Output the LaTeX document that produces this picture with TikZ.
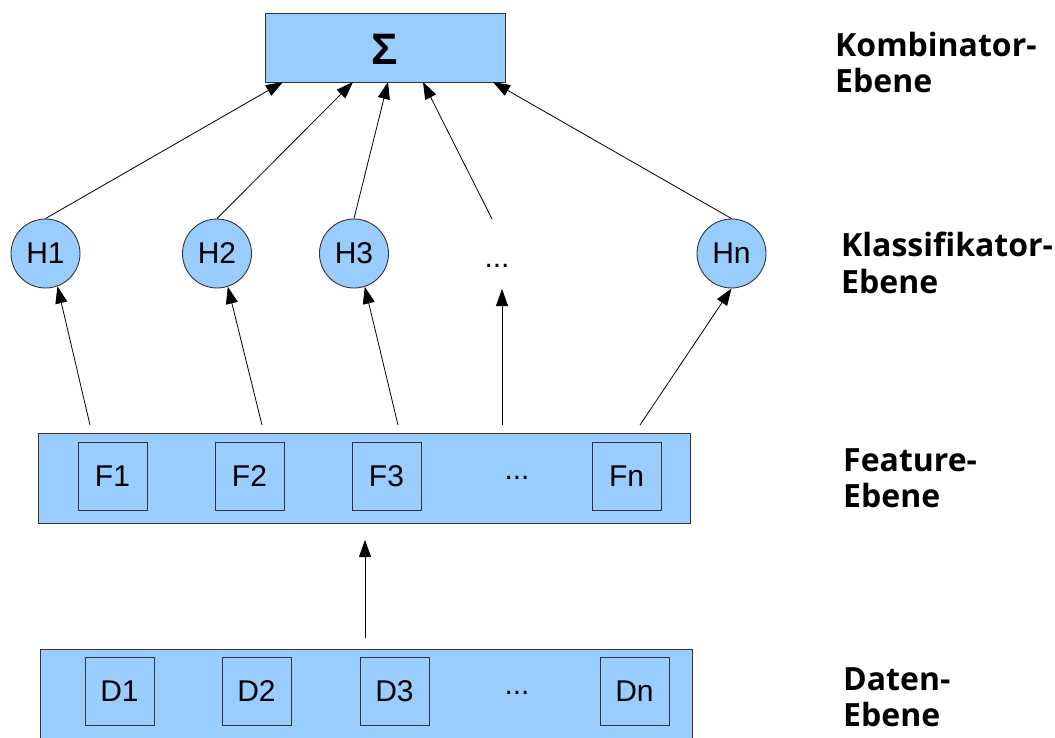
\documentclass[tikz,border=0pt]{standalone}
\usepackage{fontspec}
\setmainfont{Liberation Sans}
\newfontfamily\labfont{Open Sans}
\usetikzlibrary{arrows.meta}
\definecolor{boxblue}{HTML}{99CCFF}
\definecolor{edge}{HTML}{333333}
\tikzset{
  x=1pt, y=-1pt,
  layer/.style={draw=edge, fill=boxblue, line width=0.9pt, inner sep=0pt, anchor=north west},
  cell/.style={draw=edge, line width=0.9pt, minimum width=69pt, minimum height=68pt, inner sep=0pt, font=\fontsize{30}{34}\selectfont},
  hyp/.style={circle, draw=edge, fill=boxblue, line width=0.9pt, minimum size=69pt, inner sep=0pt, font=\fontsize{30}{34}\selectfont},
  dots/.style={font=\fontsize{30}{34}\selectfont, inner sep=0pt},
  lab/.style={anchor=base west, align=left, inner sep=0pt, font=\labfont\bfseries\fontsize{32}{36}\selectfont},
  arr/.style={-{Triangle[length=17pt,width=12pt]}, line width=0.8pt, black},
}
\begin{document}
\begin{tikzpicture}
\useasboundingbox (0,0) rectangle (1055,738);
% combinator
\node[layer, minimum width=240pt, minimum height=69pt] (sum) at (265,13) {};
\node[font=\bfseries\fontsize{44}{48}\selectfont, inner sep=0pt] (sig) at (385,49) {Σ};
% classifiers
\node[hyp] (H1) at (45.5,253.5) {H1};
\node[hyp] (H2) at (217,253.5) {H2};
\node[hyp] (H3) at (354,253.5) {H3};
\node[dots] (Hd) at (497,266) {...};
\node[hyp] (Hn) at (731.5,253.5) {Hn};
% feature layer
\node[layer, minimum width=652pt, minimum height=90pt] (feat) at (38,433) {};
\node[cell] (F1) at (112.5,476) {F1};
\node[cell] (F2) at (249.5,476) {F2};
\node[cell] (F3) at (386.5,476) {F3};
\node[dots] (Fd) at (517,478) {...};
\node[cell] (Fn) at (626.5,476) {Fn};
% data layer
\node[layer, minimum width=652pt, minimum height=95pt] (data) at (40,649) {};
\node[cell] (D1) at (119.5,691.5) {D1};
\node[cell] (D2) at (256.5,691.5) {D2};
\node[cell] (D3) at (394.5,691.5) {D3};
\node[dots] (Dd) at (517,693) {...};
\node[cell] (Dn) at (634.5,691.5) {Dn};
% labels
\node[lab] (L1) at (835,93) {Kombinator-\\Ebene};
\node[lab] (L2) at (841,293) {Klassifikator-\\Ebene};
\node[lab] (L3) at (843,507) {Feature-\\Ebene};
\node[lab] (L4) at (843,726) {Daten-\\Ebene};
% coordinates
\coordinate (s1) at (283,82);
\coordinate (s2) at (353,82);
\coordinate (s3) at (388,82);
\coordinate (s4) at (423,82);
\coordinate (s5) at (493,82);
\coordinate (dtop) at (492,219);
\coordinate (dbot) at (502,289);
\coordinate (f1) at (90,425);
\coordinate (f2) at (262,425);
\coordinate (f3) at (398,425);
\coordinate (f4) at (502,425);
\coordinate (f5) at (640,425);
\coordinate (d0) at (365,638);
\coordinate (fb) at (365,540);
% connectors
\draw[arr] (H1.north) -- (s1);
\draw[arr] (H2.north) -- (s2);
\draw[arr] (H3.north) -- (s3);
\draw[arr] (dtop) -- (s4);
\draw[arr] (Hn.north) -- (s5);
\draw[arr] (f1) -- (H1.-70);
\draw[arr] (f2) -- (H2.-72);
\draw[arr] (f3) -- (H3.-72);
\draw[arr] (f4) -- (dbot);
\draw[arr] (f5) -- (Hn.south);
\draw[arr] (d0) -- (fb);
\end{tikzpicture}
\end{document}
